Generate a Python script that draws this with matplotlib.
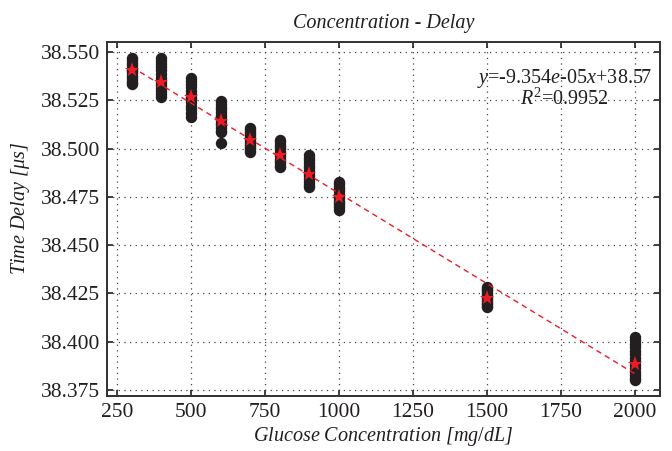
import numpy as np
import matplotlib.pyplot as plt
from matplotlib.ticker import MultipleLocator

plt.rcParams['font.family'] = ['Liberation Serif', 'DejaVu Serif']
plt.rcParams['mathtext.fontset'] = 'custom'
plt.rcParams['mathtext.rm'] = 'Liberation Serif'
plt.rcParams['mathtext.it'] = 'Liberation Serif:italic'

# glucose concentrations [mg/dL]
conc = [300, 400, 500, 600, 700, 800, 900, 1000, 1500, 2000]

delay_300 = [38.5470, 38.5458, 38.5445, 38.5432, 38.5420, 38.5410, 38.5400, 38.5390, 38.5378, 38.5365, 38.5352, 38.5340, 38.5334]
delay_400 = [38.5470, 38.5455, 38.5440, 38.5422, 38.5405, 38.5385, 38.5365, 38.5345, 38.5330, 38.5315, 38.5300, 38.5285, 38.5270]
delay_500 = [38.5365, 38.5350, 38.5335, 38.5318, 38.5300, 38.5285, 38.5270, 38.5255, 38.5240, 38.5222, 38.5205, 38.5185, 38.5164]
delay_600 = [38.5246, 38.5232, 38.5218, 38.5204, 38.5190, 38.5176, 38.5162, 38.5148, 38.5134, 38.5120, 38.5106, 38.5092, 38.5086, 38.5030]
delay_700 = [38.5106, 38.5096, 38.5086, 38.5076, 38.5066, 38.5056, 38.5046, 38.5036, 38.5026, 38.5016, 38.5004, 38.4992, 38.4982]
delay_800 = [38.5044, 38.5032, 38.5020, 38.5008, 38.4996, 38.4984, 38.4972, 38.4960, 38.4948, 38.4936, 38.4924, 38.4912, 38.4905]
delay_900 = [38.4967, 38.4953, 38.4940, 38.4926, 38.4912, 38.4898, 38.4884, 38.4870, 38.4856, 38.4842, 38.4828, 38.4814, 38.4801]
delay_1000 = [38.4827, 38.4815, 38.4803, 38.4791, 38.4779, 38.4767, 38.4755, 38.4743, 38.4731, 38.4719, 38.4707, 38.4695, 38.4682]
delay_1500 = [38.4283, 38.4274, 38.4265, 38.4256, 38.4247, 38.4238, 38.4229, 38.4220, 38.4211, 38.4202, 38.4193, 38.4184, 38.4180]
delay_2000 = [38.4024, 38.4006, 38.3988, 38.3970, 38.3952, 38.3934, 38.3916, 38.3898, 38.3880, 38.3862, 38.3844, 38.3826, 38.3810, 38.3801]

delays = [delay_300, delay_400, delay_500, delay_600, delay_700,
          delay_800, delay_900, delay_1000, delay_1500, delay_2000]

# mean delay per concentration (red stars)
mean_delay = [38.5407, 38.5345, 38.5267, 38.5143, 38.5044,
              38.4967, 38.4868, 38.4749, 38.4226, 38.3884]

fit_text = "$y$=-9.354$e$-05$x$+38.57\n$R^2$=0.9952"

ink = "#231f20"

fig = plt.figure(figsize=(6.72, 4.51), dpi=100)
ax = fig.add_axes([0.159, 0.122, 0.823, 0.785])

for c, d in zip(conc, delays):
    ax.plot([c]*len(d), d, 'o', color=ink, markersize=8.2, markeredgewidth=0, zorder=2)

slope, icpt = np.polyfit(conc, mean_delay, 1)
xfit = np.array([conc[0], conc[-1]])
ax.plot(xfit, slope*xfit + icpt, '--', color="#ed1c24", linewidth=1.0, dashes=(4, 3), zorder=3)

ax.plot(conc, mean_delay, '*', color="#ed1c24", markersize=11, markeredgewidth=0, zorder=4)

ax.text(0.828, 0.868, fit_text, transform=ax.transAxes, ha='center', va='center',
        fontsize=14.5, color=ink, linespacing=0.92)

ax.set_xlim(216, 2084)
ax.set_ylim(38.3718, 38.5553)
ax.xaxis.set_major_locator(MultipleLocator(250))
ax.yaxis.set_major_locator(MultipleLocator(0.025))
ax.yaxis.set_major_formatter(plt.FormatStrFormatter('%.3f'))

ax.grid(True, linestyle=(0, (1, 3.5)), linewidth=0.9, color="#444444")
ax.tick_params(direction='in', top=True, right=True, length=4, width=1.2,
               labelsize=15.5, colors=ink, pad=5)
for s in ax.spines.values():
    s.set_linewidth(1.4)
    s.set_color("#303030")

ax.set_title("Concentration - Delay", fontsize=14.5, style='italic', color=ink, pad=10)
ax.set_xlabel("Glucose Concentration [$mg/dL$]", fontsize=14.5, style='italic', color=ink, labelpad=2)
ax.set_ylabel(r"Time Delay [$\mu s$]", fontsize=14.5, style='italic', color=ink)
ax.yaxis.set_label_coords(-0.135, 0.53)

plt.savefig("out.png", dpi=100)
plt.close()
